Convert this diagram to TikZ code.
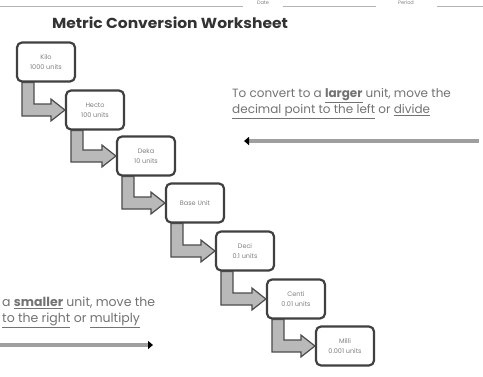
\documentclass[tikz,border=0pt]{standalone}
\usepackage{fontspec}
\setmainfont{Poppins}
\usetikzlibrary{calc,arrows.meta}
\tikzset{
  unitbox/.style={draw=black!75, line width=2.2pt, rounded corners=5pt, fill=white,
    minimum width=58pt, minimum height=39pt, align=center, inner sep=1pt,
    font=\fontsize{6.5}{10}\selectfont, text=black!50},
  bent/.style={fill=gray!55, draw=black!70, line width=1.2pt, line join=miter},
  note/.style={align=left, inner sep=0pt, font=\fontsize{12.5}{16}\selectfont, text=black!55},
  guide/.style={draw=gray!75, line width=4pt, -{Triangle[length=5pt,width=8pt,color=black]}},
  formline/.style={draw=gray!60, line width=0.8pt},
  formtext/.style={font=\fontsize{5}{5}\selectfont, text=black!50, inner sep=0pt}
}
\newcommand{\bentarrow}[2]{%
  \path[bent] ($(#1.south west)+(6,0)$) -- ($(#1.south west |- #2.west)+(6,6)$)
    -- ($(#2.west)+(-14,6)$) -- ($(#2.west)+(-14,11)$) -- (#2.west)
    -- ($(#2.west)+(-14,-11)$) -- ($(#2.west)+(-14,-6)$)
    -- ($(#1.south west |- #2.west)+(18,-6)$) -- ($(#1.south west)+(18,0)$) -- cycle;}
\begin{document}
\begin{tikzpicture}[x=1pt,y=-1pt]
\useasboundingbox (0,0) rectangle (483,376);
\clip (0,0) rectangle (483,376);
\fill[white] (0,0) rectangle (483,376);
% form header
\coordinate (h0) at (0,6);
\coordinate (h1) at (243,6);
\coordinate (h2) at (283,6);
\coordinate (h3) at (376,6);
\coordinate (h4) at (437,6);
\coordinate (h5) at (483,6);
\draw[formline] (h0) -- (h1);
\draw[formline] (h2) -- (h3);
\draw[formline] (h4) -- (h5);
\node[formtext] (date) at (263,2.8) {Date};
\node[formtext] (period) at (406,2.8) {Period};
% title
\node[font=\bfseries\fontsize{14.5}{15}\selectfont, text=black!80, inner sep=0pt] (title) at (170,23) {\scalebox{1.07}[1]{Metric Conversion Worksheet}};
% boxes
\node[unitbox] (b1) at (46,62) {Kilo\\1000 units};
\node[unitbox] (b2) at (95,110) {Hecto\\100 units};
\node[unitbox] (b3) at (146,156) {Deka\\10 units};
\node[unitbox] (b4) at (195,203) {Base Unit};
\node[unitbox] (b5) at (245,251) {Deci\\0.1 units};
\node[unitbox] (b6) at (296,299) {Centi\\0.01 units};
\node[unitbox] (b7) at (345,346) {Milli\\0.001 units};
\bentarrow{b1}{b2}
\bentarrow{b2}{b3}
\bentarrow{b3}{b4}
\bentarrow{b4}{b5}
\bentarrow{b5}{b6}
\bentarrow{b6}{b7}
% right note
\node[note, anchor=north west, font=\fontsize{12}{16}\selectfont] (larger) at (232,88) {To convert to a \underline{\textbf{larger}} unit, move the\\
\underline{decimal point to the left} or \underline{divide}};
\coordinate (ra) at (479,141);
\coordinate (rb) at (244,141);
\draw[guide] (ra) -- (rb);
% left note (visible part)
\node[note, anchor=north west] (smaller) at (2,297) {a \underline{\textbf{smaller}} unit, move the\\
\underline{to the right} or \underline{multiply}};
\coordinate (la) at (0,345);
\coordinate (lb) at (153,345);
\draw[guide] (la) -- (lb);
\end{tikzpicture}
\end{document}
